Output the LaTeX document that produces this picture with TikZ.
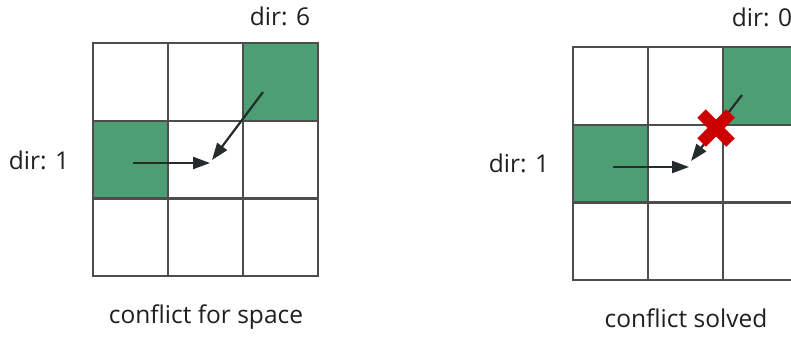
\documentclass[tikz,border=0pt]{standalone}
\usepackage{fontspec}
\setmainfont{Open Sans}
\usetikzlibrary{arrows.meta}
\definecolor{cellgreen}{RGB}{76,159,114}
\definecolor{gridgray}{RGB}{77,77,77}
\definecolor{arrowdark}{RGB}{38,44,46}
\definecolor{crossred}{RGB}{204,0,0}
\tikzset{
	cell/.style={draw=gridgray, line width=2.4pt, fill=white, inner sep=0pt, minimum width=75pt, minimum height=77.7pt},
	busy/.style={cell, fill=cellgreen},
	move/.style={draw=arrowdark, line width=2.2pt, -{Triangle[length=17pt, width=12pt]}},
	lbl/.style={font=\fontsize{24.5}{28}\selectfont, text=black!88},
}
\begin{document}
\begin{tikzpicture}[x=1pt, y=-1pt]
	\clip (0, 0) rectangle (791, 337);
	% Grids:
	\foreach \r/\c/\s in {1/1/cell, 1/2/cell, 1/3/busy, 2/1/busy, 2/2/cell, 2/3/cell, 3/1/cell, 3/2/cell, 3/3/cell} {
		\node[\s] (L-\r-\c) at ({93+75*(\c-0.5)}, {43+77.7*(\r-0.5)}) {};
		\node[\s] (R-\r-\c) at ({573+75*(\c-0.5)}, {47+77.7*(\r-0.5)}) {};
	}
	% Labels:
	\node[lbl] (dirL6) at (280, 16) {dir: 6};
	\node[lbl] (dirL1) at (39, 160) {dir: 1};
	\node[lbl] (capL) at (206, 317) {conflict for space};
	\node[lbl] (dirR0) at (762, 17) {dir: 0};
	\node[lbl] (dirR1) at (519, 163) {dir: 1};
	\node[lbl] (capR) at (686, 318) {conflict solved};
	% Moves:
	\coordinate (L-h0) at (133, 163);
	\coordinate (L-h1) at (210, 163);
	\coordinate (L-d0) at (263, 92);
	\coordinate (L-d1) at (212, 160);
	\draw[move] (L-h0) -- (L-h1);
	\draw[move] (L-d0) -- (L-d1);
	\coordinate (R-h0) at (613, 167);
	\coordinate (R-h1) at (689, 167);
	\coordinate (R-d0) at (742, 95);
	\coordinate (R-d1) at (691, 161);
	\draw[move] (R-h0) -- (R-h1);
	\draw[move] (R-d0) -- (R-d1);
	% Cross:
	\coordinate (stop) at (716, 128);
	\draw[crossred, line width=12pt] ([shift={(-14.5,-14.5)}]stop) -- ([shift={(14.5,14.5)}]stop);
	\draw[crossred, line width=12pt] ([shift={(-14.5,14.5)}]stop) -- ([shift={(14.5,-14.5)}]stop);
\end{tikzpicture}
\end{document}
